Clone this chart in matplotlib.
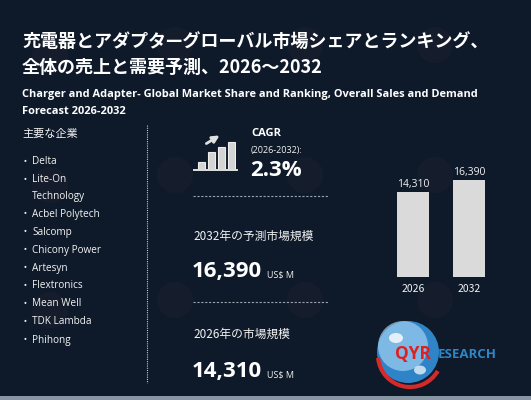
import matplotlib.pyplot as plt
from matplotlib.patches import Circle, Rectangle, FancyArrowPatch, Arc, Ellipse

plt.rcParams['font.family'] = ['Noto Sans CJK JP', 'DejaVu Sans']

# data
title_jp = ["充電器とアダプタ—グローバル市場シェアとランキング、",
            "全体の売上と需要予測、2026～2032"]
title_en = ["Charger and Adapter- Global Market Share and Ranking, Overall Sales and Demand",
            "Forecast 2026-2032"]
companies_head = "主要な企業"
companies = ["Delta", "Lite-On\nTechnology", "Acbel Polytech", "Salcomp", "Chicony Power",
             "Artesyn", "Flextronics", "Mean Well", "TDK Lambda", "Phihong"]
cagr_label = "CAGR"
cagr_period = "(2026-2032):"
cagr_value = "2.3%"
years = ["2026", "2032"]
market = [14310, 16390]
unit = "US$ M"
label_2032 = "2032年の予測市場規模"
label_2026 = "2026年の市場規模"
icon_bars = [1, 2.4, 3.2, 3.9]

bg = '#0e1a2a'
white = '#f2f2f2'
latin = ['Open Sans', 'DejaVu Sans']

fig = plt.figure(figsize=(5.31, 4.0), dpi=100, facecolor=bg)
ax = fig.add_axes([0, 0, 1, 1])
ax.set_xlim(0, 531)
ax.set_ylim(400, 0)
ax.axis('off')
ax.set_facecolor(bg)

# faint watermark circles
for wy in [45, 175, 300]:
    for wx in [50, 175, 305, 435]:
        ax.add_patch(Circle((wx, wy + (0 if wx % 2 else 10)), 18, color='#5a3546', alpha=0.10, lw=0))

# bottom strip
ax.add_patch(Rectangle((0, 396), 531, 4, color='#8795a3', lw=0))

# titles
ax.text(22, 42, title_jp[0], color='white', fontsize=13, fontweight='bold', va='center')
ax.text(22, 67, title_jp[1], color='white', fontsize=13, fontweight='bold', va='center')
ax.text(22, 95, title_en[0], color='white', fontsize=7.9, fontweight='bold', va='center', family=latin)
ax.text(22, 111, title_en[1], color='white', fontsize=7.9, fontweight='bold', va='center', family=latin)

# companies
ax.text(22, 134, companies_head, color=white, fontsize=8, va='center')
y = 162
for name in companies:
    ax.text(24, y - 1, "•", color=white, fontsize=6, va='center')
    ax.text(32, y, name.split("\n")[0], color=white, fontsize=7.2, va='center', family=latin)
    if "\n" in name:
        y += 16
        ax.text(32, y, name.split("\n")[1], color=white, fontsize=7.2, va='center', family=latin)
    y += 18

# vertical dotted separator
ax.plot([147, 147], [125, 383], color='#c8c8c8', lw=0.8, ls=(0, (1, 1)))

# icon
icon = fig.add_axes([196 / 531, 1 - 169 / 400, 40 / 531, 28 / 400])
icon.bar(range(len(icon_bars)), icon_bars, width=0.66, color='#d4d4d4', edgecolor='#eeeeee', lw=0.8)
icon.set_xlim(-0.55, 3.45)
icon.set_ylim(0, 4.0)
icon.axis('off')
ax.plot([194, 237], [170, 170], color='#e0e0e0', lw=1.4)
ax.add_patch(FancyArrowPatch((204, 145), (222, 134), arrowstyle='-|>', mutation_scale=10,
                             color='#e0e0e0', lw=2))

# CAGR
ax.text(251, 133, cagr_label, color='white', fontsize=8, fontweight='bold', va='center', family=latin)
ax.text(251, 150, cagr_period, color=white, fontsize=6.5, va='center', family=latin)
ax.text(250, 170, cagr_value, color='white', fontsize=16, fontweight='bold', va='center', family=latin)

ax.plot([193, 328], [196, 196], color='#9aa3ad', lw=0.8, ls=(0, (2, 1.5)))

# 2032 block
ax.text(193, 236, label_2032, color=white, fontsize=8.5, va='center')
ax.text(192, 272, f"{market[1]:,}", color='white', fontsize=16, fontweight='bold', va='center', family=latin)
ax.text(267, 275, unit, color=white, fontsize=6.5, va='center', family=latin)

ax.plot([193, 328], [302, 302], color='#9aa3ad', lw=0.8, ls=(0, (2, 1.5)))

# 2026 block
ax.text(193, 334, label_2026, color=white, fontsize=8.5, va='center')
ax.text(192, 372, f"{market[0]:,}", color='white', fontsize=16, fontweight='bold', va='center', family=latin)
ax.text(267, 375, unit, color=white, fontsize=6.5, va='center', family=latin)

# bar chart
bx = fig.add_axes([380 / 531, 1 - 277 / 400, 122 / 531, 120 / 400])
bx.set_facecolor('none')
bars = bx.bar(years, market, width=0.57, color='#dadada')
bx.set_ylim(0, 14310 / 85 * 120)
bx.set_xlim(-0.6, 1.6)
for rect, v in zip(bars, market):
    bx.text(rect.get_x() + rect.get_width() / 2, v + 350, f"{v:,}", color=white, fontsize=7.5,
            ha='center', va='bottom', family=latin)
for s in bx.spines.values():
    s.set_visible(False)
bx.set_yticks([])
bx.tick_params(axis='x', length=0, colors=white, labelsize=7.5, pad=5)

# logo
ax.add_patch(Circle((408, 352), 31, color='#2f84c8', lw=0))
ax.add_patch(Circle((403, 346), 25, color='#9fd0f0', lw=0, alpha=0.7))
ax.add_patch(Ellipse((396, 338), 14, 10, color='white', alpha=0.8, lw=0))
ax.add_patch(Ellipse((420, 370), 12, 9, color='white', alpha=0.7, lw=0))
ax.add_patch(Arc((410, 355), 64, 64, theta1=30, theta2=175, color='#d42a2a', lw=3))
ax.text(395, 354, "QYR", color='#e02020', fontsize=12.5, fontweight='bold', va='center', family=latin)
ax.text(438, 355, "ESEARCH", color='#2d86c6', fontsize=9.5, fontweight='bold', va='center', family=latin)

fig.savefig('out.png', dpi=100, facecolor=bg)
